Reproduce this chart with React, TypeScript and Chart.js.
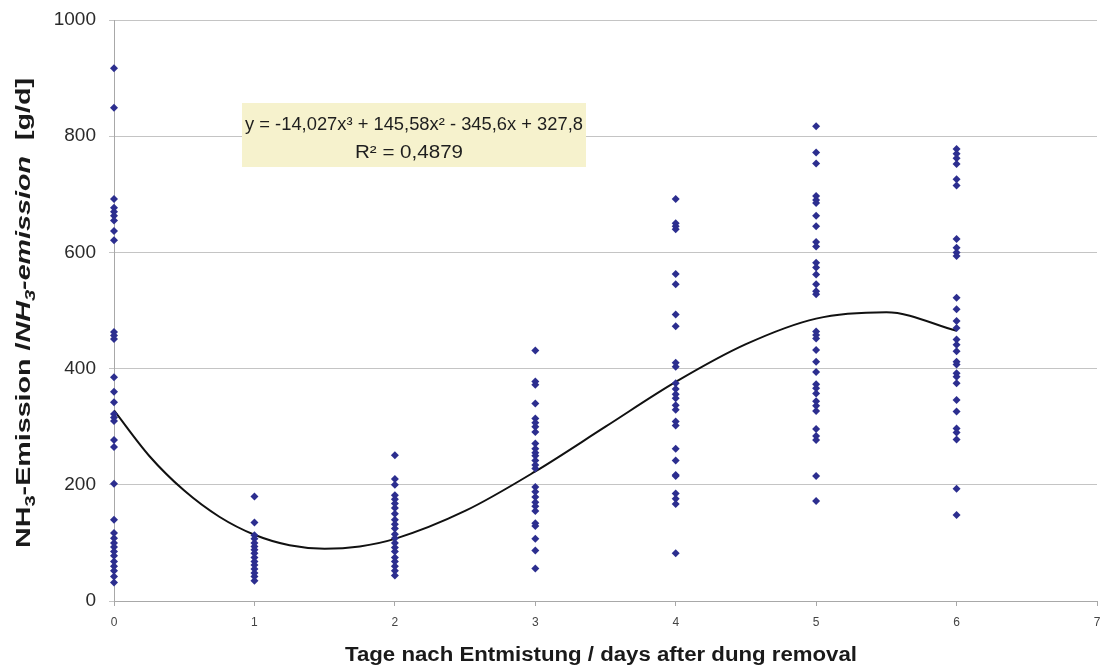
import React, { useEffect, useRef } from 'react';
import { Chart, registerables } from 'chart.js';

Chart.register(...registerables);

// ---- data ----
const days = [0, 1, 2, 3, 4, 5, 6];

const day0 = [917, 849, 692, 677, 670, 663, 655, 637, 621, 463, 457, 451, 385, 360, 342, 322, 316, 310, 277, 265, 202, 140, 117, 108, 100, 93, 85, 78, 68, 60, 52, 42, 32];
const day1 = [180, 135, 113, 107, 100, 94, 88, 82, 75, 68, 62, 55, 48, 42, 35];
const day2 = [251, 210, 200, 182, 175, 168, 160, 150, 140, 132, 125, 115, 108, 100, 92, 85, 75, 68, 60, 52, 44];
const day3 = [431, 378, 372, 340, 314, 307, 300, 291, 271, 262, 255, 250, 242, 234, 228, 196, 188, 179, 170, 163, 155, 134, 129, 107, 87, 56];
const day4 = [692, 650, 645, 640, 563, 545, 493, 473, 410, 403, 375, 365, 356, 349, 337, 329, 309, 302, 262, 242, 217, 215, 185, 176, 167, 82];
const day5 = [817, 772, 753, 697, 690, 685, 663, 645, 618, 610, 582, 574, 562, 545, 533, 528, 464, 458, 452, 432, 412, 394, 373, 366, 357, 344, 336, 327, 296, 284, 277, 215, 172];
const day6 = [778, 770, 762, 752, 726, 715, 623, 608, 600, 594, 522, 502, 482, 470, 450, 441, 430, 412, 407, 392, 386, 375, 346, 326, 297, 290, 278, 193, 148];

const columns = [day0, day1, day2, day3, day4, day5, day6];

// trend curve
const trendX = [0, 0.25, 0.5, 0.75, 1, 1.25, 1.5, 1.75, 2, 2.5, 3, 3.5, 4, 4.5, 5, 5.5, 6];
const trendY = [328, 250, 190, 145, 114, 96, 90, 94, 107, 155, 223, 300, 377, 442, 486, 497, 465];

const yTickValues = [0, 200, 400, 600, 800, 1000];
const xTickValues = [0, 1, 2, 3, 4, 5, 6, 7];

const equationText = 'y = -14,027x³ + 145,58x² - 345,6x + 327,8';
const r2Text = 'R² = 0,4879';
const xTitle = 'Tage nach Entmistung / days after dung removal';

const FONT = '"Liberation Sans", Arial, sans-serif';

function fitText(ctx: CanvasRenderingContext2D, text: string, cx: number, cy: number, target: number) {
  const w = ctx.measureText(text).width;
  const k = target / w;
  ctx.save();
  ctx.translate(cx, cy);
  ctx.scale(k, 1);
  ctx.textAlign = 'center';
  ctx.textBaseline = 'middle';
  ctx.fillText(text, 0, 0);
  ctx.restore();
}

const overlayPlugin = {
  id: 'overlay',
  afterDraw(chart: any) {
    const ctx = chart.ctx as CanvasRenderingContext2D;
    ctx.save();
    // equation box
    ctx.fillStyle = '#f6f2cd';
    ctx.fillRect(242, 103, 344, 64);
    ctx.fillStyle = '#1e1e1e';
    ctx.font = `18px ${FONT}`;
    fitText(ctx, equationText, 414, 125, 338);
    fitText(ctx, r2Text, 409, 153, 108);

    // x title
    ctx.font = `bold 20px ${FONT}`;
    ctx.fillStyle = '#1a1a1a';
    fitText(ctx, xTitle, 601, 655, 512);

    // y title (mixed styles)
    const segs = [
      { t: 'NH', f: `bold 20px ${FONT}`, dy: 7 },
      { t: '3', f: `bold 14px ${FONT}`, dy: 12 },
      { t: '-Emission /', f: `bold 20px ${FONT}`, dy: 7 },
      { t: 'NH', f: `italic bold 20px ${FONT}`, dy: 7 },
      { t: '3', f: `italic bold 14px ${FONT}`, dy: 12 },
      { t: '-emission  ', f: `italic bold 20px ${FONT}`, dy: 7 },
      { t: '[g/d]', f: `bold 20px ${FONT}`, dy: 7 },
    ];
    let total = 0;
    const widths: number[] = [];
    for (const s of segs) {
      ctx.font = s.f;
      const w = ctx.measureText(s.t).width;
      widths.push(w);
      total += w;
    }
    const k = 470 / total;
    ctx.translate(23, 313);
    ctx.rotate(-Math.PI / 2);
    ctx.scale(k, 1);
    ctx.textAlign = 'left';
    ctx.textBaseline = 'alphabetic';
    let x = -total / 2;
    segs.forEach((s, i) => {
      ctx.font = s.f;
      ctx.fillText(s.t, x, s.dy);
      x += widths[i];
    });
    ctx.restore();
  },
};

export default function App() {
  const ref = useRef<HTMLCanvasElement | null>(null);

  useEffect(() => {
    if (!ref.current) return;
    const scatterData = days.flatMap((d, i) => columns[i].map((v) => ({ x: d, y: v })));
    const trendData = trendX.map((x, i) => ({ x, y: trendY[i] }));

    const chart = new Chart(ref.current, {
      type: 'scatter',
      data: {
        datasets: [
          {
            type: 'scatter',
            label: 'NH3',
            data: scatterData,
            pointStyle: 'rectRot',
            pointRadius: 4,
            pointBackgroundColor: '#2c2e8f',
            pointBorderColor: '#2c2e8f',
            pointBorderWidth: 0,
            clip: false,
            order: 0,
          } as any,
          {
            type: 'line',
            label: 'trend',
            data: trendData,
            borderColor: '#111111',
            borderWidth: 2,
            pointRadius: 0,
            showLine: true,
            fill: false,
            cubicInterpolationMode: 'monotone',
            order: 1,
          } as any,
        ],
      },
      options: {
        animation: false,
        responsive: true,
        maintainAspectRatio: false,
        layout: { padding: { top: 20, right: 6, left: 0, bottom: 0 } },
        plugins: {
          legend: { display: false },
          tooltip: { enabled: false },
        },
        scales: {
          x: {
            type: 'linear',
            min: 0,
            max: 7,
            afterBuildTicks: (s: any) => {
              s.ticks = xTickValues.map((v) => ({ value: v }));
            },
            afterFit: (s: any) => {
              s.height = 67;
              s.paddingLeft = 0;
              s.paddingRight = 0;
            },
            grid: {
              drawOnChartArea: false,
              drawTicks: true,
              tickLength: 5,
              color: '#a8a8a8',
            },
            border: { color: '#a8a8a8', width: 1 },
            ticks: {
              padding: 9,
              color: '#444444',
              font: { family: FONT, size: 12 },
              maxRotation: 0,
              callback: (v: any) => String(v),
            },
          },
          y: {
            type: 'linear',
            min: 0,
            max: 1000,
            afterBuildTicks: (s: any) => {
              s.ticks = yTickValues.map((v) => ({ value: v }));
            },
            afterFit: (s: any) => {
              s.width = 114;
              s.paddingTop = 0;
              s.paddingBottom = 0;
            },
            grid: {
              color: '#c4c4c4',
              lineWidth: 1,
              tickLength: 5,
            },
            border: { color: '#a8a8a8', width: 1 },
            ticks: {
              padding: 13,
              color: '#2a2a2a',
              font: { family: FONT, size: 19 },
              callback: (v: any) => String(v),
            },
          },
        },
      },
      plugins: [overlayPlugin],
    });
    return () => chart.destroy();
  }, []);

  return (
    <div style={{ position: 'absolute', left: 0, top: 0, width: 1103, height: 668, background: '#ffffff' }}>
      <canvas ref={ref} />
    </div>
  );
}
